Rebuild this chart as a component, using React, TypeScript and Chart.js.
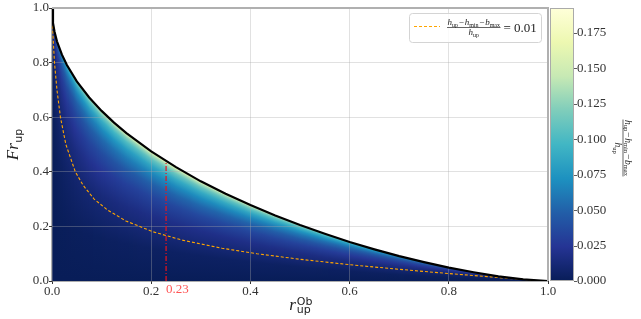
import React, { useEffect, useRef } from 'react';
import { Chart, registerables } from 'chart.js';

Chart.register(...registerables);

// ---------------- data ----------------
// x positions (r_up^Ob) of the columns used for the boundary curve and the colour field
const XS = [0, 0.002, 0.005, 0.01, 0.02, 0.03, 0.05, 0.075, 0.1, 0.125, 0.15, 0.2, 0.25, 0.3,
  0.35, 0.4, 0.45, 0.5, 0.55, 0.6, 0.65, 0.7, 0.75, 0.8, 0.85, 0.9, 0.95, 1.0];
// upper limit curve Fr_up (black line) at XS
const FB = [1.0, 0.945, 0.914, 0.878, 0.829, 0.791, 0.731, 0.672, 0.623, 0.58, 0.542, 0.475, 0.417, 0.365,
  0.32, 0.278, 0.24, 0.205, 0.173, 0.143, 0.116, 0.091, 0.069, 0.049, 0.032, 0.017, 0.006, 0.0];
// fraction of the limit height at which the field values below are given
const S_LEVELS = [0, 0.25, 0.5, 0.65, 0.75, 0.83, 0.89, 0.94, 0.97, 0.99, 1.0];
// (h_up - h_min - b_max)/h_up, in units of 1e-4, one row per S_LEVELS entry, one column per XS entry
const HEAT_UNIT = 1e-4;
const HEAT = [
  [0, 0, 0, 0, 0, 0, 0, 0, 0, 0, 0, 0, 0, 0, 0, 0, 0, 0, 0, 0, 0, 0, 0, 0, 0, 0, 0, 0],
  [0, 1, 3, 5, 9, 13, 19, 25, 29, 33, 36, 41, 43, 45, 45, 44, 42, 40, 37, 34, 31, 27, 23, 18, 14, 9, 5, 0],
  [0, 6, 13, 24, 43, 59, 86, 111, 132, 148, 161, 179, 189, 193, 193, 189, 182, 172, 160, 147, 131, 115, 97, 79, 60, 40, 20, 0],
  [0, 12, 28, 50, 87, 118, 167, 215, 251, 280, 302, 334, 351, 357, 356, 347, 333, 315, 292, 267, 239, 208, 176, 143, 108, 72, 36, 0],
  [0, 20, 46, 81, 137, 183, 256, 324, 376, 416, 447, 489, 512, 519, 514, 500, 479, 452, 419, 382, 341, 298, 252, 204, 154, 103, 52, 0],
  [0, 33, 71, 122, 203, 266, 365, 456, 523, 575, 615, 667, 692, 699, 690, 670, 639, 602, 557, 507, 453, 394, 333, 269, 204, 136, 68, 0],
  [0, 50, 105, 176, 283, 366, 491, 604, 687, 749, 795, 855, 883, 887, 872, 844, 804, 755, 698, 634, 565, 492, 415, 335, 253, 170, 85, 0],
  [0, 81, 160, 257, 398, 504, 660, 797, 895, 967, 1021, 1087, 1114, 1112, 1090, 1051, 998, 935, 862, 783, 697, 606, 511, 412, 311, 209, 105, 0],
  [0, 122, 227, 351, 523, 649, 831, 987, 1097, 1176, 1234, 1302, 1326, 1318, 1287, 1237, 1172, 1096, 1009, 915, 813, 707, 595, 480, 363, 243, 122, 0],
  [0, 189, 326, 480, 686, 832, 1039, 1212, 1332, 1417, 1477, 1545, 1563, 1547, 1504, 1441, 1363, 1271, 1169, 1057, 939, 815, 686, 553, 417, 279, 140, 0],
  [0, 347, 533, 728, 978, 1150, 1386, 1578, 1707, 1795, 1855, 1916, 1921, 1888, 1826, 1743, 1642, 1527, 1401, 1265, 1122, 972, 817, 659, 497, 332, 167, 0],
];
// contour (h_up - h_min - b_max)/h_up = 0.01 (orange dashed)
const CONTOUR_X = [0.969, 0.948, 0.919, 0.885, 0.85, 0.782, 0.718, 0.657, 0.599, 0.498, 0.413, 0.343, 0.262,
  0.204, 0.149, 0.112, 0.085, 0.063, 0.047, 0.028, 0.017, 0.01, 0.005, 0.002, 0.001, 0.0];
const CONTOUR_Y = [0.003, 0.006, 0.01, 0.015, 0.02, 0.03, 0.04, 0.05, 0.06, 0.08, 0.1, 0.12, 0.15,
  0.18, 0.22, 0.26, 0.3, 0.35, 0.4, 0.5, 0.6, 0.7, 0.8, 0.9, 0.95, 0.98];
// red marker
const MARK_X = 0.23;
const MARK_TOP = 0.441;
const MARK_LABEL = '0.23';
const LEGEND_VALUE = '= 0.01';
// colour bar
const V_MAX = 0.1925;
const CB_STEP = 0.025;
const AXIS_STEP = 0.2;
const CMAP = ['#081d58', '#253494', '#225ea8', '#1d91c0', '#41b6c4', '#7fcdbb', '#c7e9b4', '#edf8b1', '#ffffd9'];

// ---------------- helpers ----------------
const SERIF = '"Liberation Serif", "DejaVu Serif", serif';
const SANS = '"DejaVu Sans", sans-serif';
const TICK_COLOR = '#333';

function hexToRgb(h: string) {
  return [parseInt(h.slice(1, 3), 16), parseInt(h.slice(3, 5), 16), parseInt(h.slice(5, 7), 16)];
}
const CMAP_RGB = CMAP.map(hexToRgb);
function cmap(f: number) {
  const c = Math.max(0, Math.min(1, f)) * (CMAP_RGB.length - 1);
  const i = Math.min(CMAP_RGB.length - 2, Math.floor(c));
  const t = c - i;
  const a = CMAP_RGB[i], b = CMAP_RGB[i + 1];
  return `rgb(${Math.round(a[0] + (b[0] - a[0]) * t)},${Math.round(a[1] + (b[1] - a[1]) * t)},${Math.round(a[2] + (b[2] - a[2]) * t)})`;
}

type Seg = { t: string; f: string; dy?: number; pl?: number; pr?: number };
function segWidth(ctx: CanvasRenderingContext2D, segs: Seg[]) {
  let w = 0;
  for (const s of segs) { ctx.font = s.f; w += (s.pl || 0) + ctx.measureText(s.t).width + (s.pr || 0); }
  return w;
}
function drawSegs(ctx: CanvasRenderingContext2D, segs: Seg[], x: number, y: number) {
  let cx = x;
  ctx.textAlign = 'left';
  ctx.textBaseline = 'alphabetic';
  for (const s of segs) {
    ctx.font = s.f;
    cx += s.pl || 0;
    ctx.fillText(s.t, cx, y + (s.dy || 0));
    cx += ctx.measureText(s.t).width + (s.pr || 0);
  }
}
function fracSegs(hs: number, ss: number): { num: Seg[]; den: Seg[] } {
  const it = `italic ${hs}px ${SERIF}`;
  const rm = `${hs}px ${SERIF}`;
  const sb = `${ss}px ${SERIF}`;
  const d = hs * 0.17;
  return {
    num: [
      { t: 'h', f: it }, { t: 'up', f: sb, dy: d },
      { t: '\u2212', f: rm, pl: 0.8, pr: 0.8 },
      { t: 'h', f: it }, { t: 'min', f: sb, dy: d },
      { t: '\u2212', f: rm, pl: 0.8, pr: 0.8 },
      { t: 'b', f: it }, { t: 'max', f: sb, dy: d },
    ],
    den: [{ t: 'h', f: it }, { t: 'up', f: sb, dy: d }],
  };
}
// draw a fraction centred at (cx, barY) in the current transform; returns its width
function drawFrac(ctx: CanvasRenderingContext2D, cx: number, barY: number, hs: number, ss: number) {
  const { num, den } = fracSegs(hs, ss);
  const wn = segWidth(ctx, num);
  const wd = segWidth(ctx, den);
  const w = Math.max(wn, wd) + 1;
  drawSegs(ctx, num, cx - wn / 2, barY - 2.2);
  drawSegs(ctx, den, cx - wd / 2, barY + hs * 0.72 + 1.2);
  ctx.beginPath();
  ctx.lineWidth = 0.7;
  ctx.moveTo(cx - w / 2, barY);
  ctx.lineTo(cx + w / 2, barY);
  ctx.stroke();
  return w;
}
function fracWidth(ctx: CanvasRenderingContext2D, hs: number, ss: number) {
  const { num, den } = fracSegs(hs, ss);
  return Math.max(segWidth(ctx, num), segWidth(ctx, den)) + 1;
}

const heatPlugin = {
  id: 'heatField',
  beforeDraw(chart: any) {
    const { ctx, chartArea: ca, scales } = chart;
    const xs = scales.x, ys = scales.y;
    ctx.save();
    ctx.strokeStyle = '#b0b0b0';
    ctx.lineWidth = 2;
    ctx.beginPath();
    ctx.moveTo(ca.left, ca.top);
    ctx.lineTo(ca.left, ca.bottom);
    ctx.lineTo(ca.right, ca.bottom);
    ctx.stroke();
    const y0 = ys.getPixelForValue(0);
    for (let px = Math.floor(ca.left); px < Math.ceil(ca.right); px++) {
      const xv = xs.getValueForPixel(px + 0.5);
      if (xv < 0 || xv > 1) continue;
      let j = 0;
      while (j < XS.length - 2 && XS[j + 1] < xv) j++;
      const t = (xv - XS[j]) / (XS[j + 1] - XS[j]);
      const fb = FB[j] + t * (FB[j + 1] - FB[j]);
      if (fb <= 0) continue;
      const yt = ys.getPixelForValue(fb);
      const g = ctx.createLinearGradient(0, y0, 0, yt);
      S_LEVELS.forEach((s, i) => {
        const v = (HEAT[i][j] + t * (HEAT[i][j + 1] - HEAT[i][j])) * HEAT_UNIT;
        g.addColorStop(s, cmap(v / V_MAX));
      });
      ctx.fillStyle = g;
      ctx.fillRect(px, yt, 1, y0 - yt);
    }
    ctx.restore();
  },
  afterDraw(chart: any) {
    const { ctx, chartArea: ca, scales } = chart;
    const xs = scales.x, cb = scales.cb;
    ctx.save();
    // top / right spines
    ctx.strokeStyle = '#b0b0b0';
    ctx.lineWidth = 2;
    ctx.beginPath();
    ctx.moveTo(ca.left, ca.top);
    ctx.lineTo(ca.right, ca.top);
    ctx.lineTo(ca.right, ca.bottom);
    ctx.stroke();

    // colour bar
    const cbTop = cb.getPixelForValue(V_MAX);
    const cbBot = cb.getPixelForValue(0);
    const cbX = ca.right + 2;
    const cbW = 24;
    const g = ctx.createLinearGradient(0, cbBot, 0, cbTop);
    CMAP.forEach((c, i) => g.addColorStop(i / (CMAP.length - 1), c));
    ctx.fillStyle = g;
    ctx.fillRect(cbX, cbTop, cbW, cbBot - cbTop);
    ctx.strokeStyle = '#aaaaaa';
    ctx.lineWidth = 1;
    ctx.strokeRect(cbX + 0.5, cbTop + 0.5, cbW - 1, cbBot - cbTop - 1);
    ctx.strokeStyle = TICK_COLOR;
    ctx.lineWidth = 0.8;
    cb.ticks.forEach((tk: any) => {
      const y = Math.round(cb.getPixelForValue(tk.value)) + 0.5;
      ctx.beginPath();
      ctx.moveTo(cbX + cbW, y);
      ctx.lineTo(cbX + cbW + 3, y);
      ctx.stroke();
    });

    // colour bar title (rotated clockwise)
    ctx.fillStyle = '#222';
    ctx.strokeStyle = '#222';
    ctx.save();
    ctx.translate(623, 148);
    ctx.rotate(Math.PI / 2);
    drawFrac(ctx, 0, 0, 9.5, 6.5);
    ctx.restore();

    // y title  Fr_up
    ctx.save();
    ctx.translate(13, (ca.top + ca.bottom) / 2);
    ctx.rotate(-Math.PI / 2);
    const ySegs: Seg[] = [
      { t: 'Fr', f: `italic 17px ${SERIF}` },
      { t: 'up', f: `11px ${SANS}`, dy: 3.5, pl: 0.5 },
    ];
    const yw = segWidth(ctx, ySegs);
    drawSegs(ctx, ySegs, -yw / 2, 5);
    ctx.restore();

    // x title  r_up^Ob
    const xc = (ca.left + ca.right) / 2;
    ctx.font = `italic 17px ${SERIF}`;
    const rw = ctx.measureText('r').width;
    ctx.font = `11px ${SANS}`;
    const uw = ctx.measureText('up').width;
    const total = rw + 1 + uw;
    const xl = xc - total / 2;
    drawSegs(ctx, [{ t: 'r', f: `italic 17px ${SERIF}` }], xl, 310);
    drawSegs(ctx, [{ t: 'up', f: `11px ${SANS}` }], xl + rw + 1, 313);
    drawSegs(ctx, [{ t: 'Ob', f: `11px ${SANS}` }], xl + rw + 1, 305);

    // marker label
    ctx.fillStyle = '#f55';
    ctx.font = `13px ${SERIF}`;
    ctx.textAlign = 'left';
    ctx.textBaseline = 'alphabetic';
    ctx.fillText(MARK_LABEL, xs.getPixelForValue(MARK_X), 293);

    // legend
    const lx = 409.5, ly = 13.5, lw = 132, lh = 29;
    ctx.beginPath();
    ctx.roundRect(lx, ly, lw, lh, 3);
    ctx.fillStyle = 'rgba(255,255,255,0.85)';
    ctx.fill();
    ctx.strokeStyle = '#d4d4d4';
    ctx.lineWidth = 1;
    ctx.stroke();
    ctx.beginPath();
    ctx.setLineDash([3, 2]);
    ctx.strokeStyle = '#ffa500';
    ctx.lineWidth = 1.2;
    ctx.moveTo(414, 26.5);
    ctx.lineTo(440, 26.5);
    ctx.stroke();
    ctx.setLineDash([]);
    ctx.fillStyle = '#222';
    ctx.strokeStyle = '#222';
    const fw = fracWidth(ctx, 9, 6);
    const fl = 447;
    drawFrac(ctx, fl + fw / 2, 27.5, 9, 6);
    ctx.font = `13px ${SERIF}`;
    ctx.textAlign = 'left';
    ctx.textBaseline = 'alphabetic';
    ctx.fillText(LEGEND_VALUE, fl + fw + 3, 32);
    ctx.restore();
  },
};

export default function App() {
  const ref = useRef<HTMLCanvasElement | null>(null);
  useEffect(() => {
    if (!ref.current) return;
    const tickFont = { family: SERIF, size: 13 };
    const gridColor = 'rgba(170,170,170,0.35)';
    const chart = new Chart(ref.current, {
      type: 'scatter',
      data: {
        datasets: [
          {
            label: 'limit',
            data: XS.map((x, i) => ({ x, y: FB[i] })),
            showLine: true,
            borderColor: '#000',
            borderWidth: 2.2,
            pointRadius: 0,
            tension: 0,
          },
          {
            label: 'marker',
            data: [{ x: MARK_X, y: 0 }, { x: MARK_X, y: MARK_TOP }],
            showLine: true,
            borderColor: '#e8141c',
            borderWidth: 1.2,
            borderDash: [5, 2, 1, 2],
            pointRadius: 0,
          },
          {
            label: 'contour 0.01',
            data: CONTOUR_X.map((x, i) => ({ x, y: CONTOUR_Y[i] })),
            showLine: true,
            borderColor: '#ffa500',
            borderWidth: 1.1,
            borderDash: [3, 2],
            pointRadius: 0,
            tension: 0,
          },
        ],
      },
      options: {
        animation: false,
        responsive: false,
        devicePixelRatio: 1,
        layout: { padding: { top: 8, left: 0, right: 0, bottom: 0 } },
        plugins: { legend: { display: false }, tooltip: { enabled: false } },
        scales: {
          x: {
            type: 'linear',
            min: 0,
            max: 1,
            ticks: {
              stepSize: AXIS_STEP,
              font: tickFont,
              color: TICK_COLOR,
              padding: 0,
              maxRotation: 0,
              callback: (v: any) => Number(v).toFixed(1),
            },
            grid: { color: gridColor, tickColor: TICK_COLOR, tickLength: 3, lineWidth: 1 },
            border: { display: false },
            afterFit: (s: any) => { s.height = 38; },
          },
          y: {
            type: 'linear',
            min: 0,
            max: 1,
            ticks: {
              stepSize: AXIS_STEP,
              font: tickFont,
              color: TICK_COLOR,
              padding: 0,
              callback: (v: any) => Number(v).toFixed(1),
            },
            grid: { color: gridColor, tickColor: TICK_COLOR, tickLength: 3, lineWidth: 1 },
            border: { display: false },
            afterFit: (s: any) => { s.width = 52; },
          },
          cb: {
            type: 'linear',
            position: 'right',
            min: 0,
            max: V_MAX,
            ticks: {
              stepSize: CB_STEP,
              includeBounds: false,
              font: tickFont,
              color: TICK_COLOR,
              padding: 0,
              callback: (v: any) => Number(v).toFixed(3),
            },
            grid: { display: false, drawTicks: true, tickLength: 29 },
            border: { display: false },
            afterFit: (s: any) => { s.width = 93; },
          },
        },
      } as any,
      plugins: [heatPlugin],
    });
    return () => chart.destroy();
  }, []);
  return (
    <div style={{ position: 'fixed', left: 0, top: 0, width: 641, height: 319, background: '#fff' }}>
      <canvas ref={ref} width={641} height={319} style={{ width: 641, height: 319, display: 'block' }} />
    </div>
  );
}
